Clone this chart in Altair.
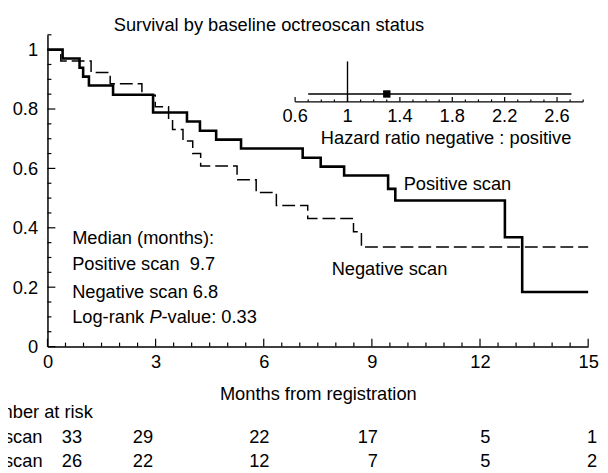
import altair as alt
import numpy as np
import pandas as pd

# ---------------- data ----------------
pos_months = [0, 0.42, 0.89, 0.99, 1.15, 1.82, 2.93, 3.87, 4.23, 4.68, 5.37,
              7.08, 7.58, 8.23, 9.45, 9.65, 12.69, 13.17, 15]
pos_surv = [1.0, 0.970, 0.939, 0.909, 0.879, 0.848, 0.788, 0.758, 0.727, 0.697,
            0.667, 0.636, 0.606, 0.576, 0.531, 0.492, 0.368, 0.184, 0.184]
neg_months = [0, 0.37, 1.21, 1.74, 2.62, 2.99, 3.36, 3.47, 3.76, 4.03, 4.25,
              5.26, 5.79, 6.35, 7.22, 8.49, 8.71, 15]
neg_surv = [1.0, 0.962, 0.923, 0.885, 0.846, 0.808, 0.769, 0.731, 0.692, 0.650,
            0.608, 0.562, 0.519, 0.475, 0.431, 0.387, 0.335, 0.335]

risk_months = [0, 3, 6, 9, 12, 15]
risk_positive = [33, 29, 22, 17, 5, 1]
risk_negative = [26, 22, 12, 7, 5, 2]

hr_estimate = [1.30]
hr_lower = [0.70]
hr_upper = [2.71]

x_tick_values = [0, 3, 6, 9, 12, 15]
y_tick_values = [0, 0.2, 0.4, 0.6, 0.8, 1.0]
hr_tick_values = [0.6, 1.0, 1.4, 1.8, 2.2, 2.6]
hr_tick_labels = ["0.6", "1", "1.4", "1.8", "2.2", "2.6"]

# ---------------- layout / style ----------------
FONT = "Liberation Sans"
FS = 18.5
W, H = 548, 316
risk_col_x = [0.96, 2.93, 6.16, 9.17, 12.29, 15.25]  # column anchors (months units)

xs = alt.Scale(domain=[0, 15], nice=False, zero=False)
ys = alt.Scale(domain=[0, 1.05], nice=False, zero=True)
hs = alt.Scale(domain=[0.6, 2.8], range=[251, 543], nice=False, zero=False)

x_axis = alt.Axis(values=x_tick_values, format="~g", ticks=False, grid=False,
                  domainColor="black", domainWidth=1.5, labelFlush=False,
                  labelFont=FONT, labelFontSize=FS, labelColor="black", labelPadding=6,
                  title="Months from registration", titleFont=FONT, titleFontSize=FS,
                  titleFontWeight="normal", titleColor="black", titlePadding=14)
y_axis = alt.Axis(values=y_tick_values, format="~g", ticks=False, grid=False,
                  domainColor="black", domainWidth=1.5, labelFlush=False,
                  labelFont=FONT, labelFontSize=FS, labelColor="black", labelPadding=10,
                  title=None, orient="left")

one = pd.DataFrame({"a": [0]})


def txt(text, x, y, align="left", style="normal"):
    return alt.Chart(one).mark_text(
        text=text, align=align, baseline="alphabetic", font=FONT, fontSize=FS,
        fontStyle=style, color="black"
    ).encode(x=alt.value(x), y=alt.value(y))


# ---------------- survival curves ----------------
pos_df = pd.DataFrame({"t": pos_months, "s": pos_surv})
neg_df = pd.DataFrame({"t": neg_months, "s": neg_surv})

pos_line = alt.Chart(pos_df).mark_line(
    interpolate="step-after", color="black", strokeWidth=2.6
).encode(x=alt.X("t:Q", scale=xs, axis=x_axis), y=alt.Y("s:Q", scale=ys, axis=y_axis))

neg_line = alt.Chart(neg_df).mark_line(
    interpolate="step-after", color="black", strokeWidth=1.5, strokeDash=[13, 5]
).encode(x=alt.X("t:Q", scale=xs, axis=None), y=alt.Y("s:Q", scale=ys, axis=None))

# inward ticks
x_minor = [i * 0.5 for i in range(31) if i % 6 != 0]
y_minor = [round(i * 0.05, 2) for i in range(22) if i % 4 != 0]


def xticks(vals, length):
    return alt.Chart(pd.DataFrame({"t": vals})).mark_rule(color="black", strokeWidth=1.2).encode(
        x=alt.X("t:Q", scale=xs, axis=None), y=alt.value(H), y2=alt.value(H - length))


def yticks(vals, length):
    return alt.Chart(pd.DataFrame({"s": vals})).mark_rule(color="black", strokeWidth=1.2).encode(
        y=alt.Y("s:Q", scale=ys, axis=None), x=alt.value(0), x2=alt.value(length))


# number at risk table
risk_df_pos = pd.DataFrame({"x": risk_col_x, "n": risk_positive})
risk_df_neg = pd.DataFrame({"x": risk_col_x, "n": risk_negative})
ROW1_Y, ROW2_Y = 413.5, 438


def risk_row(df, y):
    return alt.Chart(df).mark_text(align="right", baseline="alphabetic", font=FONT,
                                   fontSize=FS, color="black").encode(
        x=alt.X("x:Q", scale=xs, axis=None), y=alt.value(y), text=alt.Text("n:Q"))


# ---------------- hazard-ratio inset ----------------
hr_minor = [round(i / 10, 1) for i in range(6, 29) if (i - 6) % 4 != 0]
AX_Y = 68
CI_Y = 60

inset_axis = alt.Chart(pd.DataFrame({"a": [0.6], "b": [2.8]})).mark_rule(
    color="black", strokeWidth=1.5).encode(
    x=alt.X("a:Q", scale=hs, axis=None), x2="b:Q", y=alt.value(AX_Y))


def hticks(vals, length):
    return alt.Chart(pd.DataFrame({"h": vals})).mark_rule(color="black", strokeWidth=1.2).encode(
        x=alt.X("h:Q", scale=hs, axis=None), y=alt.value(AX_Y), y2=alt.value(AX_Y - length))


ci = alt.Chart(pd.DataFrame({"lo": hr_lower, "hi": hr_upper})).mark_rule(
    color="black", strokeWidth=1.4).encode(
    x=alt.X("lo:Q", scale=hs, axis=None), x2="hi:Q", y=alt.value(CI_Y))

ref = alt.Chart(pd.DataFrame({"h": [1.0]})).mark_rule(color="black", strokeWidth=1.4).encode(
    x=alt.X("h:Q", scale=hs, axis=None), y=alt.value(27), y2=alt.value(AX_Y))

est = alt.Chart(pd.DataFrame({"h": hr_estimate})).mark_square(
    color="black", size=56, opacity=1).encode(
    x=alt.X("h:Q", scale=hs, axis=None), y=alt.value(CI_Y))

hr_labels = alt.Chart(pd.DataFrame({"h": hr_tick_values, "lab": hr_tick_labels})).mark_text(
    align="center", baseline="alphabetic", font=FONT, fontSize=FS, color="black").encode(
    x=alt.X("h:Q", scale=hs, axis=None), y=alt.value(88.7), text="lab:N")

chart = alt.layer(
    pos_line, neg_line,
    xticks(x_tick_values, 8), xticks(x_minor, 4),
    yticks(y_tick_values, 8), yticks(y_minor, 4),
    risk_row(risk_df_pos, ROW1_Y),
    risk_row(risk_df_neg, ROW2_Y),
    inset_axis, hticks(hr_tick_values, 5), hticks(hr_minor, 2.5),
    ci, ref, est, hr_labels,
    txt("Survival by baseline octreoscan status", 224.5, -3.7, align="center"),
    txt("Positive scan", 361, 157),
    txt("Negative scan", 288, 243),
    txt("Median (months):", 25, 212),
    txt("Positive scan\u00a0 9.7", 25, 238.7),
    txt("Negative scan 6.8", 25, 266.3),
    txt("Log-rank", 25, 292.3),
    txt("P", 103.5, 292.3, style="italic"),
    txt("-value: 0.33", 115.5, 292.3),
    txt("Number at risk", 46, 388, align="right"),
    txt("Positive scan", -5, ROW1_Y, align="right"),
    txt("Negative scan", -5, ROW2_Y, align="right"),
    txt("Hazard ratio negative : positive", 404, 110.7, align="center"),
).resolve_scale(x="independent", y="independent").properties(
    width=W, height=H,
    autosize=alt.AutoSizeParams(type="none"),
    padding={"left": 40, "top": 24, "right": 12, "bottom": 125},
    background="white",
).configure_view(stroke=None)

chart.save("out.html", embed_options={"renderer": "svg", "actions": False})
